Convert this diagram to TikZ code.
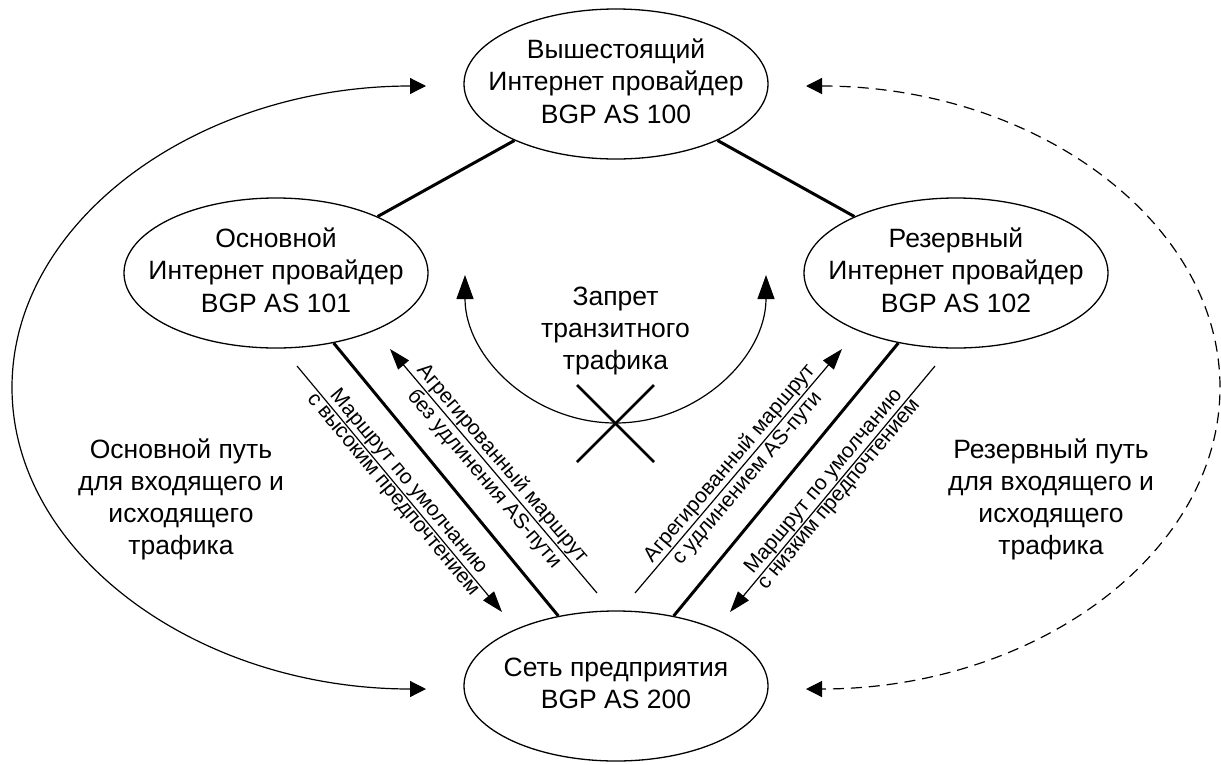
\documentclass[tikz,border=0pt]{standalone}
\usepackage{fontspec}
\setmainfont{Liberation Sans}
\usetikzlibrary{shapes.geometric,arrows.meta}
\newcommand\elltxt[1]{\makebox[0pt]{\begin{tabular}{@{}c@{}}#1\end{tabular}}}
\begin{document}
\begin{tikzpicture}[x=1pt,y=-1pt,
  >={Triangle[length=21pt,width=14pt]},
  bigtip/.style={>={Triangle[length=16pt,width=16pt]}},
  bantip/.style={>={Triangle[length=24pt,width=17pt]}},
  ell/.style={draw, line width=1.3pt, ellipse, minimum width=304pt, minimum height=150pt, inner sep=0pt, font=\fontsize{26.5}{32.5}\selectfont},
  fatline/.style={line width=3pt},
  slimline/.style={line width=1.2pt},
  crossline/.style={line width=2.5pt},
  lbl/.style={font=\fontsize{21}{25}\selectfont, sloped, midway},
  lblup/.style={lbl, above, inner sep=1pt},
  lbldn/.style={lbl, below, inner sep=2pt},
  bigtext/.style={font=\fontsize{26.5}{32}\selectfont, align=center}
]
\useasboundingbox (0,0) rectangle (1221,764);
\fill[white] (0,0) rectangle (1221,764);

% ellipses
\node[ell] (T) at (616,84) {\elltxt{Вышестоящий\\Интернет провайдер\\BGP AS 100}};
\node[ell] (L) at (276,273) {\elltxt{Основной\\Интернет провайдер\\BGP AS 101}};
\node[ell] (R) at (956,273) {\elltxt{Резервный\\Интернет провайдер\\BGP AS 102}};
\node[ell] (B) at (616,686) {\elltxt{Сеть предприятия\\BGP AS 200}};

% links
\draw[fatline] (T) -- (L);
\draw[fatline] (T) -- (R);
\draw[fatline] (L) -- (B);
\draw[fatline] (R) -- (B);

% labelled route arrows
\coordinate (a1s) at (297,366); \coordinate (a1e) at (502,612);
\draw[slimline,->] (a1s) -- (a1e)
  node[lblup]{Маршрут по умолчанию}
  node[lbldn]{с высоким предпочтением};

\coordinate (a2s) at (390,349); \coordinate (a2e) at (597,593);
\draw[slimline,<-] (a2s) -- (a2e)
  node[lblup]{Агрегированный маршрут}
  node[lbldn]{без удлинения AS-пути};

\coordinate (a3s) at (635,593); \coordinate (a3e) at (842,349);
\draw[slimline,->] (a3s) -- (a3e)
  node[lblup]{Агрегированный маршрут}
  node[lbldn]{с удлинением AS-пути};

\coordinate (a4s) at (730,612); \coordinate (a4e) at (935,366);
\draw[slimline,<-] (a4s) -- (a4e)
  node[lblup]{Маршрут по умолчанию}
  node[lbldn]{с низким предпочтением};

% big paths
\coordinate (pl) at (426,86);
\draw[slimline,bigtip,<->] (pl) arc[start angle=270, end angle=90, x radius=414, y radius=301.5];
\coordinate (pr) at (806,86);
\draw[slimline,bigtip,dash pattern=on 11pt off 7pt,<->] (pr) arc[start angle=-90, end angle=90, x radius=414, y radius=301.5];

% transit ban
\coordinate (cs) at (465,275);
\draw[slimline,bantip,<->] (cs) arc[start angle=180, end angle=0, x radius=150.5, y radius=148];
\coordinate (x1) at (577,385); \coordinate (x2) at (654,462);
\coordinate (x3) at (577,462); \coordinate (x4) at (654,385);
\draw[crossline] (x1) -- (x2);
\draw[crossline] (x3) -- (x4);

\node[bigtext] (zt) at (615.5,331) {Запрет\\транзитного\\трафика};
\node[bigtext] (p1) at (181,499) {Основной путь\\для входящего и\\исходящего\\трафика};
\node[bigtext] (p2) at (1051,499) {Резервный путь\\для входящего и\\исходящего\\трафика};
\end{tikzpicture}
\end{document}
